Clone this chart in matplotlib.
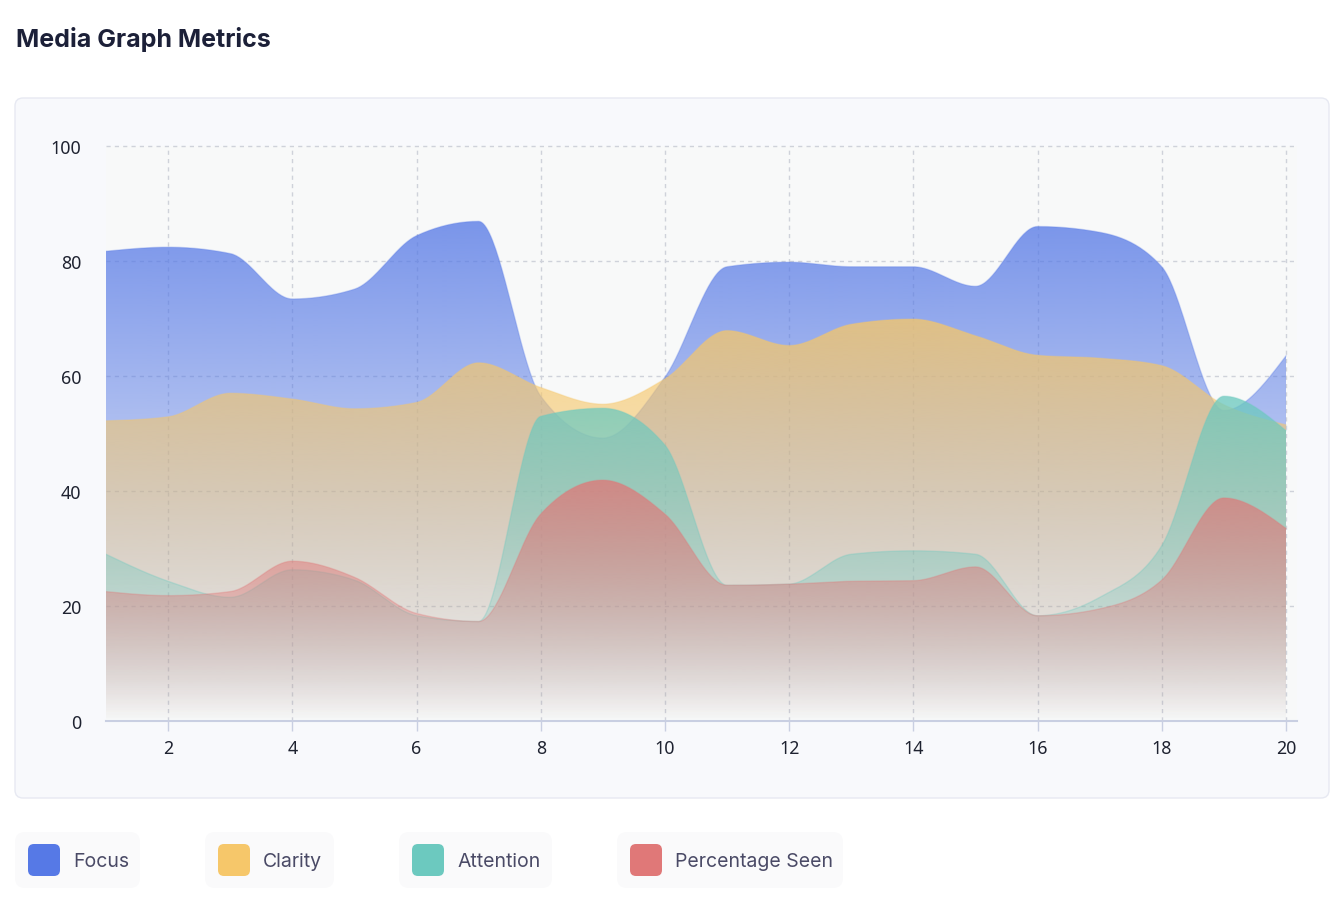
import numpy as np
import matplotlib
matplotlib.use("Agg")
import matplotlib.pyplot as plt
from matplotlib.patches import FancyBboxPatch, PathPatch
from matplotlib.path import Path
from matplotlib.transforms import IdentityTransform
from matplotlib.colors import to_rgb

# ---------------- data ----------------
x_vals = list(range(1, 21))
focus = [81.7, 82.4, 81.3, 73.4, 75.1, 84.4, 86.9, 56.5, 49.2, 59.8,
         79.0, 79.8, 79.0, 79.0, 75.6, 86.0, 85.0, 79.0, 54.0, 63.5]
clarity = [52.2, 52.9, 57.0, 56.0, 54.3, 55.4, 62.3, 58.0, 55.1, 59.5,
           67.9, 65.3, 69.0, 69.9, 67.0, 63.6, 63.1, 61.8, 55.0, 51.5]
attention = [29.0, 24.3, 21.5, 26.3, 24.5, 18.3, 17.3, 53.0, 54.4, 48.0,
             23.6, 23.8, 29.0, 29.6, 29.0, 18.3, 21.5, 30.5, 56.5, 50.5]
pct_seen = [22.5, 21.8, 22.5, 27.8, 25.0, 18.7, 17.3, 36.0, 41.9, 36.0,
            23.6, 23.8, 24.3, 24.4, 26.8, 18.3, 19.5, 24.5, 38.8, 33.5]

series_names = ["Focus", "Clarity", "Attention", "Percentage Seen"]
series_values = [focus, clarity, attention, pct_seen]
series_colors = ["#5679e6", "#f6c76a", "#6cc9bf", "#e07878"]

y_ticks = [0, 20, 40, 60, 80, 100]
x_ticks = [2, 4, 6, 8, 10, 12, 14, 16, 18, 20]

W, H = 1342, 904


def monotone(xs, ys, n=40):
    xs = np.asarray(xs, float)
    ys = np.asarray(ys, float)
    h = np.diff(xs)
    s = np.diff(ys) / h
    t = np.zeros_like(ys)
    for i in range(1, len(ys) - 1):
        s0, s1 = s[i - 1], s[i]
        h0, h1 = h[i - 1], h[i]
        p = (s0 * h1 + s1 * h0) / (h0 + h1)
        t[i] = (np.sign(s0) + np.sign(s1)) * min(abs(s0), abs(s1), 0.5 * abs(p))
    t[0] = (3 * s[0] - t[1]) / 2
    t[-1] = (3 * s[-1] - t[-2]) / 2
    X, Y = [], []
    for i in range(len(xs) - 1):
        u = np.linspace(0, 1, n, endpoint=(i == len(xs) - 2))
        h00 = 2 * u**3 - 3 * u**2 + 1
        h10 = u**3 - 2 * u**2 + u
        h01 = -2 * u**3 + 3 * u**2
        h11 = u**3 - u**2
        X.append(xs[i] + u * h[i])
        Y.append(h00 * ys[i] + h10 * h[i] * t[i] + h01 * ys[i + 1] + h11 * h[i] * t[i + 1])
    return np.concatenate(X), np.concatenate(Y)


fig = plt.figure(figsize=(W / 100, H / 100), dpi=100)
fig.patch.set_facecolor("white")

# panel
panel = FancyBboxPatch((15, H - 799), 1314, 700,
                       boxstyle="round,pad=0,rounding_size=8",
                       transform=IdentityTransform(), facecolor="#f8f9fc",
                       edgecolor="#e7e9f2", linewidth=1.0, zorder=0)
fig.add_artist(panel)

x_right = 20 + 11 / 62.1
ax_l, ax_r = 106 / W, 1297 / W
ax_b, ax_t = 1 - 722 / H, 1 - 147 / H
ax = fig.add_axes([ax_l, ax_b, ax_r - ax_l, ax_t - ax_b])
ax.set_facecolor("#f8f9f9")
ax.set_xlim(1, x_right)
ax.set_ylim(0, 100)
for sp in ax.spines.values():
    sp.set_visible(False)

# grid
for yv in y_ticks[1:]:
    ax.axhline(yv, color="#cfd2da", lw=1.0, ls=(0, (3, 3)), zorder=0.5, clip_on=False)
for xv in x_ticks:
    ax.axvline(xv, color="#cfd2da", lw=1.0, ls=(0, (3, 3)), zorder=0.5)
ax.axhline(0, color="#c9cfe2", lw=1.5, zorder=10, clip_on=False)

# areas
for i, (vals, col) in enumerate(zip(series_values, series_colors)):
    cx, cy = monotone(x_vals, vals)
    verts = np.column_stack([np.concatenate([cx, [cx[-1], cx[0]]]),
                             np.concatenate([cy, [0, 0]])])
    path = Path(verts, closed=False)
    patch = PathPatch(path, facecolor="none", edgecolor="none")
    ax.add_patch(patch)
    ymax = max(vals)
    ny = 400
    yy = np.linspace(0, ymax, ny)
    rgb = to_rgb(col)
    img = np.zeros((ny, 1, 4))
    img[:, 0, 0] = rgb[0]
    img[:, 0, 1] = rgb[1]
    img[:, 0, 2] = rgb[2]
    img[:, 0, 3] = np.clip(0.78 * yy / ymax, 0, 1)
    im = ax.imshow(img, extent=[1, 20, 0, ymax], origin="lower", aspect="auto",
                   interpolation="bilinear", zorder=2 + i)
    im.set_clip_path(patch)
    ax.plot(cx, cy, color=col, lw=1.0, alpha=0.3, zorder=2 + i + 0.5)

ax.set_xlim(1, x_right)
ax.set_ylim(0, 100)

ax.set_xticks(x_ticks)
ax.set_xticklabels([str(v) for v in x_ticks])
ax.set_yticks(y_ticks)
ax.set_yticklabels([str(v) for v in y_ticks])
ax.tick_params(axis="x", length=7, width=1, color="#c9cfe2", pad=6,
               labelsize=12.8, labelcolor="#1e2230")
ax.tick_params(axis="y", length=0, pad=18, labelsize=12.8, labelcolor="#1e2230")
for lab in ax.get_xticklabels() + ax.get_yticklabels():
    lab.set_fontfamily("Noto Sans")

# title
fig.text(16 / W, 1 - 47 / H, "Media Graph Metrics", fontsize=18, fontweight="bold",
         family="Inter", color="#1c2038", ha="left", va="baseline")

# legend
legend_boxes = [(15, 140), (205, 334), (399, 552), (617, 843)]
for (bx0, bx1), name, col in zip(legend_boxes, series_names, series_colors):
    box = FancyBboxPatch((bx0, H - 889), bx1 - bx0, 56,
                         boxstyle="round,pad=0,rounding_size=10",
                         transform=IdentityTransform(), facecolor="#fafafb",
                         edgecolor="none", zorder=1)
    fig.add_artist(box)
    sw = FancyBboxPatch((bx0 + 13, H - 877), 32, 32,
                        boxstyle="round,pad=0,rounding_size=6",
                        transform=IdentityTransform(), facecolor=col,
                        edgecolor="none", zorder=2)
    fig.add_artist(sw)
    fig.text((bx0 + 58) / W, 1 - 862 / H, name, fontsize=14, family="Inter",
             color="#4a4a66", ha="left", va="center")

fig.savefig("out.png", dpi=100, facecolor="white")
